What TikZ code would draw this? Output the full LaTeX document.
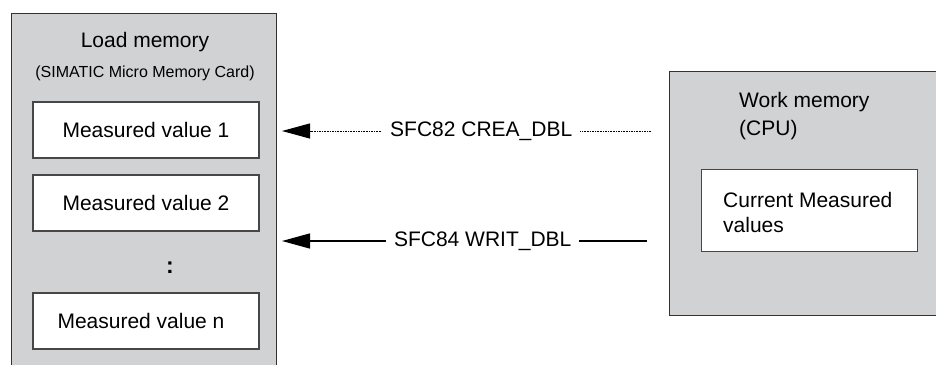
\documentclass[tikz,border=0pt]{standalone}
\usepackage{fontspec}
\setmainfont{Liberation Sans}
\usetikzlibrary{arrows.meta}
\definecolor{panel}{HTML}{D1D2D4}
\definecolor{edge}{HTML}{333333}
\tikzset{
  panelbox/.style={draw=edge, line width=1.4pt, fill=panel},
  valbox/.style={draw=edge!90, line width=1.1pt, fill=white, minimum width=226pt, minimum height=56pt, inner sep=0pt, font=\fontsize{21}{25}\selectfont},
  txt/.style={inner sep=0pt, font=\fontsize{21}{25}\selectfont},
  smalltxt/.style={inner sep=0pt, font=\fontsize{16}{19}\selectfont},
  bigtip/.style={-{Triangle[length=28pt,width=15pt]}},
  lbl/.style={fill=white, inner xsep=8pt, inner ysep=2pt, font=\fontsize{21}{25}\selectfont},
}
\begin{document}
\begin{tikzpicture}[x=1pt,y=-1pt]
\useasboundingbox (0,0) rectangle (936,364);
\clip (0,0) rectangle (936,364);
% Load memory panel
\node[panelbox, anchor=north west, minimum width=265pt, minimum height=380pt, inner sep=0pt] (lm) at (11,13) {};
\node[txt] (lmt) at (145,42) {Load memory};
\node[smalltxt] (lms) at (145,73) {(SIMATIC Micro Memory Card)};
\node[valbox] (v1) at (146,130) {Measured value 1};
\node[valbox] (v2) at (146,203) {Measured value 2};
\node[txt, font=\fontsize{23}{27}\selectfont\bfseries] (dots) at (170,268) {:};
\node[valbox] (vn) at (146,321) {\hspace*{-10pt}Measured value n};
% Work memory panel
\node[panelbox, anchor=north west, minimum width=290pt, minimum height=244pt, inner sep=0pt] (wm) at (669,71) {};
\node[txt, anchor=west] (wmt) at (739,102) {Work memory};
\node[txt, anchor=west] (wmc) at (739,130) {(CPU)};
\node[draw=edge!90, line width=1.1pt, fill=white, anchor=north west, minimum width=216pt, minimum height=82pt, inner sep=0pt] (cur) at (701,169) {};
\node[txt, anchor=west] (curt) at (723,200) {Current Measured};
\node[txt, anchor=west] (curv) at (723,225) {values};
% connectors
\coordinate (s1) at (651,131);
\coordinate (e1) at (282,131);
\coordinate (s2) at (647,241);
\coordinate (e2) at (282,241);
\draw[bigtip, dash pattern=on 1.6pt off 1pt, line width=1pt] (s1) -- node[lbl, pos=0.46] {SFC82 CREA\_DBL} (e1);
\draw[bigtip, line width=1.4pt] (s2) -- node[lbl, pos=0.45] {SFC84 WRIT\_DBL} (e2);
\end{tikzpicture}
\end{document}
